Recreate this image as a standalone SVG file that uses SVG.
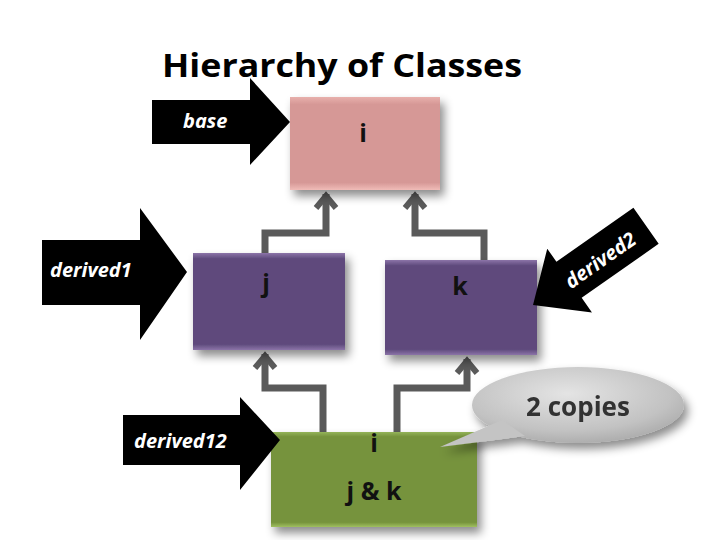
<svg xmlns="http://www.w3.org/2000/svg" width="720" height="540" viewBox="0 0 720 540">
<defs>
<style>
.lbl{font-family:"Open Sans","Liberation Sans",sans-serif;font-weight:bold;font-style:italic;fill:#fff;font-size:20px}
.t{font-family:"Open Sans","Liberation Sans",sans-serif;font-weight:bold;fill:#111;font-size:25px;text-anchor:middle}
.con{fill:none;stroke:#5a5a5a;stroke-width:7}
.hd{fill:none;stroke:#5a5a5a;stroke-width:6}
</style>
<filter id="sh" x="-20%" y="-20%" width="150%" height="150%"><feDropShadow dx="4" dy="6" stdDeviation="5" flood-color="#000" flood-opacity="0.45"/></filter>
<linearGradient id="pk" x1="0" y1="0" x2="0" y2="1"><stop offset="0" stop-color="#e8b0ac"/><stop offset="0.08" stop-color="#d69896"/><stop offset="0.92" stop-color="#d69896"/><stop offset="1" stop-color="#f0bcb8"/></linearGradient>
<linearGradient id="pu" x1="0" y1="0" x2="0" y2="1"><stop offset="0" stop-color="#8c74a8"/><stop offset="0.06" stop-color="#5e4a7c"/><stop offset="0.94" stop-color="#5e4a7c"/><stop offset="1" stop-color="#8c74a8"/></linearGradient>
<linearGradient id="gr" x1="0" y1="0" x2="0" y2="1"><stop offset="0" stop-color="#94b45a"/><stop offset="0.05" stop-color="#76933c"/><stop offset="0.95" stop-color="#76933c"/><stop offset="1" stop-color="#a0c060"/></linearGradient>
<radialGradient id="cg" cx="0.45" cy="0.35" r="0.7"><stop offset="0" stop-color="#e4e4e4"/><stop offset="0.7" stop-color="#c2c2c2"/><stop offset="1" stop-color="#a8a8a8"/></radialGradient>
</defs>
<rect width="720" height="540" fill="#fff"/>
<text x="342" y="77" font-family="'Open Sans','Liberation Sans',sans-serif" font-weight="bold" font-size="33" text-anchor="middle" fill="#000" textLength="360" lengthAdjust="spacingAndGlyphs">Hierarchy of Classes</text>

<g id="connectors">
<path class="con" d="M265,253 V233 H326 V194"/><path class="hd" d="M316,208 L326,196 L336,208"/>
<path class="con" d="M484,260 V233 H415 V194"/><path class="hd" d="M405,208 L415,196 L425,208"/>
<path class="con" d="M323,432 V388 H265 V354"/><path class="hd" d="M255,368 L265,356 L275,368"/>
<path class="con" d="M397,432 V388 H467 V359"/><path class="hd" d="M457,373 L467,361 L477,373"/>
</g>

<g id="node-i"><rect x="290" y="97" width="150" height="93" fill="url(#pk)" filter="url(#sh)"/><text class="t" x="363" y="142">i</text></g>
<g id="node-j"><rect x="193" y="253" width="152" height="97" fill="url(#pu)" filter="url(#sh)"/><text class="t" x="266" y="292">j</text></g>
<g id="node-k"><rect x="385" y="260" width="152" height="95" fill="url(#pu)" filter="url(#sh)"/><text class="t" x="460" y="295">k</text></g>
<g id="node-jk"><rect x="271" y="432" width="206" height="95" fill="url(#gr)" filter="url(#sh)"/><text class="t" x="374" y="452">i</text><text class="t" x="374" y="500">j &amp; k</text></g>

<g id="arrow-base"><path d="M152,100 H250 V78 L290,122 L250,165 V144 H152 Z" fill="#000"/><text class="lbl" x="183" y="128">base</text></g>
<g id="arrow-derived1"><path d="M42,240 H140 V208 L187,272 L140,340 V305 H42 Z" fill="#000"/><text class="lbl" x="50" y="277">derived1</text></g>
<g id="arrow-derived12"><path d="M123,415 H240 V397 L280,440 L240,490 V465 H123 Z" fill="#000"/><text class="lbl" x="134" y="448">derived12</text></g>
<g id="arrow-derived2" transform="translate(533,305) rotate(-35)"><path d="M0,0 L44,-38 V-22 H138 V22 H44 V40 Z" fill="#000"/><text class="lbl" x="40" y="9" font-size="23">derived2</text></g>

<g id="callout" filter="url(#sh)"><ellipse cx="578" cy="405" rx="106" ry="38" fill="url(#cg)"/><path d="M502,420 L440,447 L525,436 Z" fill="#c4c4c4"/><text x="578" y="416" font-family="'Open Sans','Liberation Sans',sans-serif" font-weight="bold" font-size="26" text-anchor="middle" fill="#333">2 copies</text></g>
</svg>
